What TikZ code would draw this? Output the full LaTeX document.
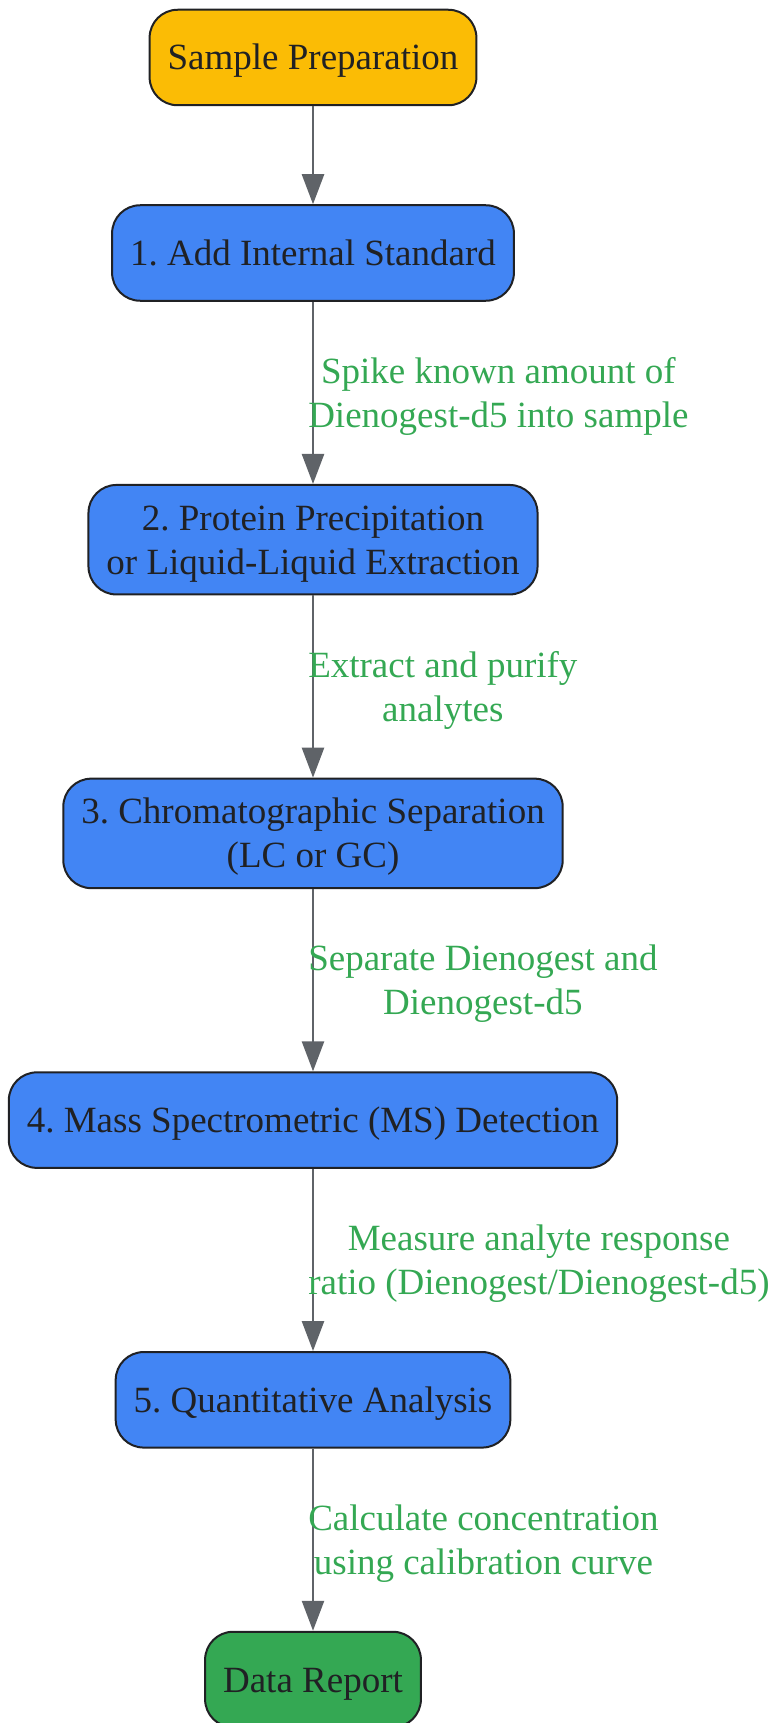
\documentclass[tikz,border=0pt]{standalone}
\usepackage{fontspec}
\setmainfont{Liberation Serif}
\frenchspacing
\usetikzlibrary{arrows.meta,positioning}
\definecolor{gblue}{HTML}{4285F4}
\definecolor{gyellow}{HTML}{FBBC05}
\definecolor{ggreen}{HTML}{34A853}
\definecolor{ink}{HTML}{202124}
\definecolor{wire}{HTML}{5F6368}
\tikzset{
    activ/.style = {rounded corners=28pt, rectangle,fill=gblue,draw=ink,text=ink,line width=2pt,
                    inner xsep=18pt, inner ysep=4pt, minimum height=95.5pt, align=center,
                    text height=34.5pt, text depth=9.5pt,
                    font=\fontsize{37}{44}\selectfont},
    startev/.style = {activ,fill=gyellow},
    endev/.style = {activ,fill=ggreen},
    twoline/.style = {minimum height=109.5pt, text height=78.5pt},
    note/.style = {text=ggreen,align=center,anchor=west,inner sep=0pt,xshift=-6pt,
                   text height=78.5pt, text depth=9.5pt,
                   font=\fontsize{37}{44}\selectfont},
    flow/.style = {->,draw=wire,line width=2.5pt},
    >={Triangle[length=30pt,width=22pt]}
}
\begin{document}
\begin{tikzpicture}[x=1pt,y=-1pt,node distance=182.2pt]
        \useasboundingbox (0,0) rectangle (772,1723);

        %% Steps
        \node[startev]  (1000) at (313,57.5)          {Sample Preparation};
        \node[activ]    (2000) [below=98pt of 1000]  {1. Add Internal Standard};
        \node[activ,twoline]  (3000) [below=of 2000]  {2. Protein Precipitation\\or Liquid-Liquid Extraction};
        \node[activ,twoline]  (4000) [below=of 3000]  {3. Chromatographic Separation\\(LC or GC)};
        \node[activ]    (5000) [below=of 4000]       {4. Mass Spectrometric (MS) Detection};
        \node[activ]    (6000) [below=of 5000]       {5. Quantitative Analysis};
        \node[endev]    (7000) [below=of 6000]       {Data Report};

        %% Flow
        \path   (1000) edge [flow]  (2000)
                (2000) edge [flow]  node[note] {Spike known amount of\\Dienogest-d5 into sample} (3000)
                (3000) edge [flow]  node[note] {Extract and purify\\analytes} (4000)
                (4000) edge [flow]  node[note] {Separate Dienogest and\\Dienogest-d5} (5000)
                (5000) edge [flow]  node[note] {Measure analyte response\\ratio (Dienogest/Dienogest-d5)} (6000)
                (6000) edge [flow]  node[note] {Calculate concentration\\using calibration curve} (7000);
\end{tikzpicture}
\end{document}
